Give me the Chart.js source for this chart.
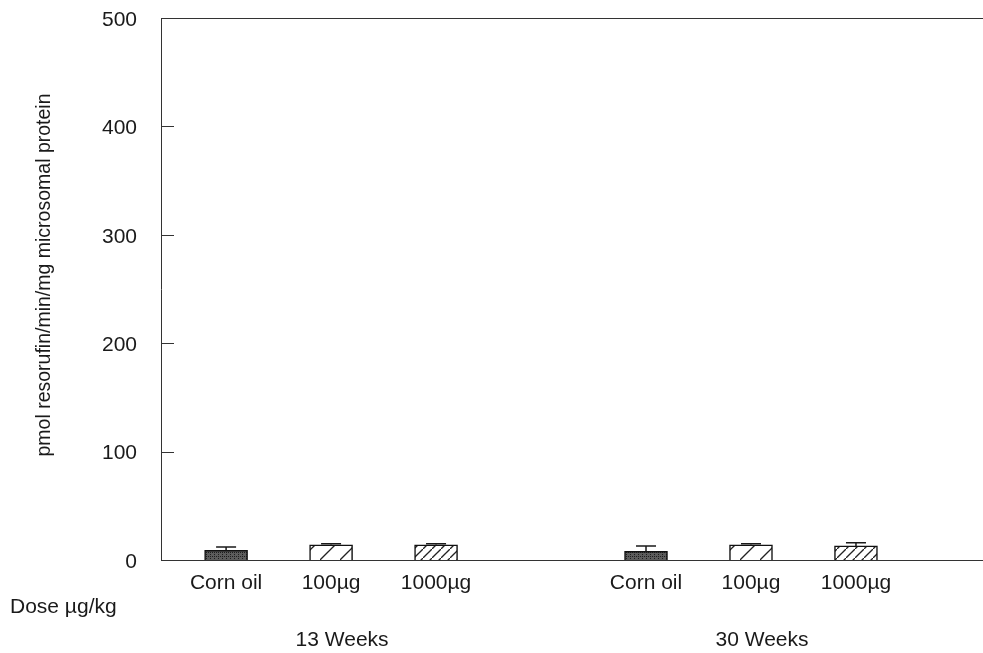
<!DOCTYPE html>
<html>
<head>
<meta charset="utf-8">
<script src="https://cdn.jsdelivr.net/npm/chart.js@4"></script>
<style>
  html, body { margin: 0; padding: 0; background: #fff; }
  #wrap { width: 983px; height: 653px; position: relative; }
</style>
</head>
<body>
<div id="wrap"><canvas id="chart" width="983" height="653"></canvas></div>
<script>
const groups = ['13 Weeks', '30 Weeks'];
const doses = ['Corn oil', '100µg', '1000µg'];
// mean activity per bar, 13 weeks then 30 weeks
const means = [9, 14, 14, 8, 14, 13];
// top of the upper error whisker
const errTops = [12, 15, 15, 13, 15, 16];
const yTicks = [0, 100, 200, 300, 400, 500];
const yTitle = 'pmol resorufin/min/mg microsomal protein';
const doseTitle = 'Dose µg/kg';

const FONT = '"Liberation Sans", Arial, Helvetica, sans-serif';
const INK = '#1a1a1a';

function makePattern(size, draw) {
    const c = document.createElement('canvas');
    c.width = size;
    c.height = size;
    const g = c.getContext('2d');
    draw(g, size);
    return g.createPattern(c, 'repeat');
}

const ctx = document.getElementById('chart').getContext('2d');

// stippled dark fill for controls, sparse and dense hatching for the doses
const fills = [
    makePattern(4, (g, s) => {
        g.fillStyle = '#5c5c5c';
        g.fillRect(0, 0, s, s);
        g.fillStyle = '#1e1e1e';
        g.fillRect(0, 0, 1, 1);
        g.fillRect(2, 2, 1, 1);
        g.fillRect(2, 0, 1, 1);
    }),
    makePattern(20, (g, s) => {
        g.fillStyle = '#fff';
        g.fillRect(0, 0, s, s);
        g.strokeStyle = '#222';
        g.lineWidth = 1.3;
        g.beginPath();
        g.moveTo(-2, s + 2);
        g.lineTo(s + 2, -2);
        g.stroke();
    }),
    makePattern(9, (g, s) => {
        g.fillStyle = '#fff';
        g.fillRect(0, 0, s, s);
        g.strokeStyle = '#222';
        g.lineWidth = 1.3;
        g.beginPath();
        g.moveTo(-2, s + 2);
        g.lineTo(s + 2, -2);
        g.stroke();
    })
];

// one slot gap between the two time points
const points = means.map((v, i) => {
    const g = Math.floor(i / doses.length);
    const d = i % doses.length;
    return { x: g * (doses.length + 1) + d + 1, y: v };
});

const frame = {
    id: 'frame',
    afterDatasetsDraw(chart) {
        const { ctx, chartArea: a, scales } = chart;
        const x = scales.x, y = scales.y;
        ctx.save();

        // top and bottom rules
        ctx.strokeStyle = '#333';
        ctx.lineWidth = 1;
        ctx.beginPath();
        ctx.moveTo(a.left, a.top + 0.5);
        ctx.lineTo(a.right, a.top + 0.5);
        ctx.moveTo(a.left, a.bottom + 0.5);
        ctx.lineTo(a.right, a.bottom + 0.5);
        ctx.stroke();

        // inward ticks on the value axis
        ctx.beginPath();
        yTicks.slice(1, -1).forEach(t => {
            const py = Math.round(y.getPixelForValue(t)) + 0.5;
            ctx.moveTo(a.left, py);
            ctx.lineTo(a.left + 13, py);
        });
        ctx.stroke();

        // upper error whiskers
        ctx.strokeStyle = INK;
        ctx.lineWidth = 1.5;
        points.forEach((p, i) => {
            const px = x.getPixelForValue(p.x);
            const top = y.getPixelForValue(errTops[i]);
            const base = y.getPixelForValue(p.y);
            ctx.beginPath();
            ctx.moveTo(px, base);
            ctx.lineTo(px, top);
            ctx.moveTo(px - 10, top);
            ctx.lineTo(px + 10, top);
            ctx.stroke();
        });

        // category and group labels
        ctx.fillStyle = INK;
        ctx.font = '21px ' + FONT;
        ctx.textAlign = 'center';
        ctx.textBaseline = 'middle';
        points.forEach((p, i) => {
            ctx.fillText(doses[i % doses.length], x.getPixelForValue(p.x), 583);
        });
        groups.forEach((name, g) => {
            const mid = points[g * doses.length + 1];
            ctx.fillText(name, x.getPixelForValue(mid.x) + 11, 640);
        });
        ctx.textAlign = 'left';
        ctx.fillText(doseTitle, 10, 607);

        // value axis title
        ctx.translate(45, 275);
        ctx.rotate(-Math.PI / 2);
        ctx.textAlign = 'center';
        ctx.font = '19.5px ' + FONT;
        ctx.fillText(yTitle, 0, 0);
        ctx.restore();
    }
};

new Chart(ctx, {
    type: 'bar',
    data: {
        datasets: [{
            data: points,
            backgroundColor: points.map((p, i) => fills[i % doses.length]),
            borderColor: '#111',
            borderWidth: 1.5,
            borderSkipped: 'bottom',
            barThickness: 43
        }]
    },
    options: {
        responsive: false,
        animation: false,
        layout: { padding: { top: 18, right: 0, bottom: 93, left: 0 } },
        plugins: {
            legend: { display: false },
            tooltip: { enabled: false }
        },
        scales: {
            x: {
                type: 'linear',
                min: 0.38,
                max: 8.21,
                offset: false,
                display: false
            },
            y: {
                min: 0,
                max: 500,
                afterFit(scale) {
                    scale.width = 161;
                    scale.paddingTop = 0;
                    scale.paddingBottom = 0;
                },
                afterBuildTicks(scale) {
                    scale.ticks = yTicks.map(v => ({ value: v }));
                },
                grid: { display: false, drawTicks: false },
                border: { display: true, color: '#333', width: 1 },
                ticks: {
                    padding: 24,
                    labelOffset: 2,
                    color: INK,
                    font: { family: FONT, size: 21 }
                }
            }
        }
    },
    plugins: [frame]
});
</script>
</body>
</html>
